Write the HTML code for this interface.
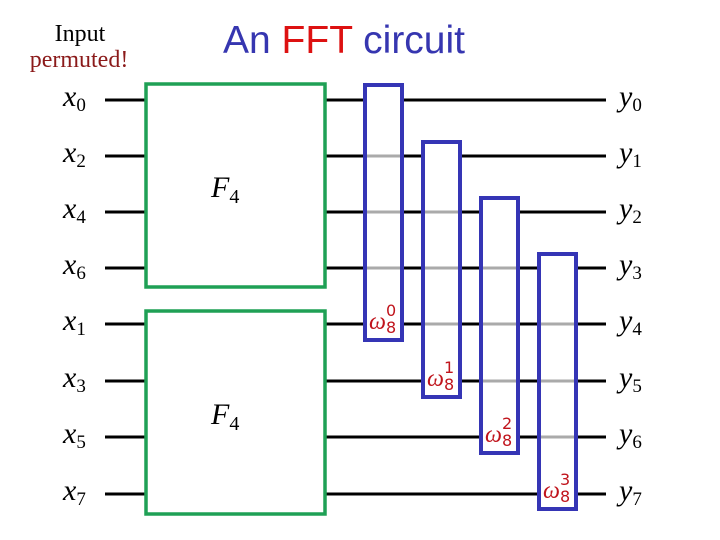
<!DOCTYPE html>
<html><head><meta charset="utf-8"><style>
html,body{margin:0;padding:0;background:#fff;}
svg{display:block;}
</style></head><body>
<svg width="720" height="540" viewBox="0 0 720 540" xmlns="http://www.w3.org/2000/svg">
<rect width="720" height="540" fill="#fff"/>
<text x="80" y="41" font-family="Liberation Serif, serif" font-size="24" text-anchor="middle" fill="#000">Input</text>
<text x="79" y="67" font-family="Liberation Serif, serif" font-size="24" text-anchor="middle" fill="#8b1a1a">permuted!</text>
<text x="223" y="53" font-family="Liberation Sans, sans-serif" font-size="39" fill="#3636b0">An <tspan fill="#dd1111">FFT</tspan> circuit</text>
<g stroke="#000" stroke-width="3">
<line x1="105" y1="100" x2="606" y2="100"/>
<line x1="105" y1="156" x2="606" y2="156"/>
<line x1="105" y1="212" x2="606" y2="212"/>
<line x1="105" y1="268" x2="606" y2="268"/>
<line x1="105" y1="324" x2="606" y2="324"/>
<line x1="105" y1="381" x2="606" y2="381"/>
<line x1="105" y1="437" x2="606" y2="437"/>
<line x1="105" y1="494" x2="606" y2="494"/>
</g>
<g fill="#fff" stroke="#1fa055" stroke-width="3.5">
<rect x="146" y="84" width="179" height="203"/>
<rect x="146" y="311" width="179" height="203"/>
</g>
<g font-family="Liberation Serif, serif" font-style="italic" font-size="30" fill="#000">
<text x="211" y="197">F<tspan font-size="20" font-style="normal" dy="6">4</tspan></text>
<text x="211" y="424">F<tspan font-size="20" font-style="normal" dy="6">4</tspan></text>
</g>
<g fill="#fff" stroke="#3535b5" stroke-width="4">
<rect x="365" y="85" width="37" height="255"/>
<rect x="423" y="142" width="37" height="255"/>
<rect x="481" y="198" width="37" height="255"/>
<rect x="539" y="254" width="37" height="255"/>
</g>
<g stroke="#aaa" stroke-width="3">
<line x1="367" y1="156" x2="400" y2="156"/><line x1="367" y1="212" x2="400" y2="212"/><line x1="367" y1="268" x2="400" y2="268"/>
<line x1="425" y1="212" x2="458" y2="212"/><line x1="425" y1="268" x2="458" y2="268"/><line x1="425" y1="324" x2="458" y2="324"/>
<line x1="483" y1="268" x2="516" y2="268"/><line x1="483" y1="324" x2="516" y2="324"/><line x1="483" y1="381" x2="516" y2="381"/>
<line x1="541" y1="324" x2="574" y2="324"/><line x1="541" y1="381" x2="574" y2="381"/><line x1="541" y1="437" x2="574" y2="437"/>
</g>
<g font-family="Liberation Serif, serif" fill="#c0141c">
<text x="369" y="329" font-size="24" font-style="italic">ω</text><text x="386" y="333" font-size="16" font-family="DejaVu Sans, sans-serif">8</text><text x="386" y="316" font-size="16" font-family="DejaVu Sans, sans-serif">0</text>
<text x="427" y="386" font-size="24" font-style="italic">ω</text><text x="444" y="390" font-size="16" font-family="DejaVu Sans, sans-serif">8</text><text x="444" y="373" font-size="16" font-family="DejaVu Sans, sans-serif">1</text>
<text x="485" y="442" font-size="24" font-style="italic">ω</text><text x="502" y="446" font-size="16" font-family="DejaVu Sans, sans-serif">8</text><text x="502" y="429" font-size="16" font-family="DejaVu Sans, sans-serif">2</text>
<text x="543" y="498" font-size="24" font-style="italic">ω</text><text x="560" y="502" font-size="16" font-family="DejaVu Sans, sans-serif">8</text><text x="560" y="485" font-size="16" font-family="DejaVu Sans, sans-serif">3</text>
</g>
<g font-family="Liberation Serif, serif" font-size="30" fill="#000">
<text x="63" y="106" font-style="italic">x<tspan font-style="normal" font-size="19" dy="5">0</tspan></text>
<text x="63" y="162" font-style="italic">x<tspan font-style="normal" font-size="19" dy="5">2</tspan></text>
<text x="63" y="218" font-style="italic">x<tspan font-style="normal" font-size="19" dy="5">4</tspan></text>
<text x="63" y="274" font-style="italic">x<tspan font-style="normal" font-size="19" dy="5">6</tspan></text>
<text x="63" y="330" font-style="italic">x<tspan font-style="normal" font-size="19" dy="5">1</tspan></text>
<text x="63" y="387" font-style="italic">x<tspan font-style="normal" font-size="19" dy="5">3</tspan></text>
<text x="63" y="443" font-style="italic">x<tspan font-style="normal" font-size="19" dy="5">5</tspan></text>
<text x="63" y="500" font-style="italic">x<tspan font-style="normal" font-size="19" dy="5">7</tspan></text>
<text x="619" y="106" font-style="italic">y<tspan font-style="normal" font-size="19" dy="5">0</tspan></text>
<text x="619" y="162" font-style="italic">y<tspan font-style="normal" font-size="19" dy="5">1</tspan></text>
<text x="619" y="218" font-style="italic">y<tspan font-style="normal" font-size="19" dy="5">2</tspan></text>
<text x="619" y="274" font-style="italic">y<tspan font-style="normal" font-size="19" dy="5">3</tspan></text>
<text x="619" y="330" font-style="italic">y<tspan font-style="normal" font-size="19" dy="5">4</tspan></text>
<text x="619" y="387" font-style="italic">y<tspan font-style="normal" font-size="19" dy="5">5</tspan></text>
<text x="619" y="443" font-style="italic">y<tspan font-style="normal" font-size="19" dy="5">6</tspan></text>
<text x="619" y="500" font-style="italic">y<tspan font-style="normal" font-size="19" dy="5">7</tspan></text>
</g>
</svg>
</body></html>
